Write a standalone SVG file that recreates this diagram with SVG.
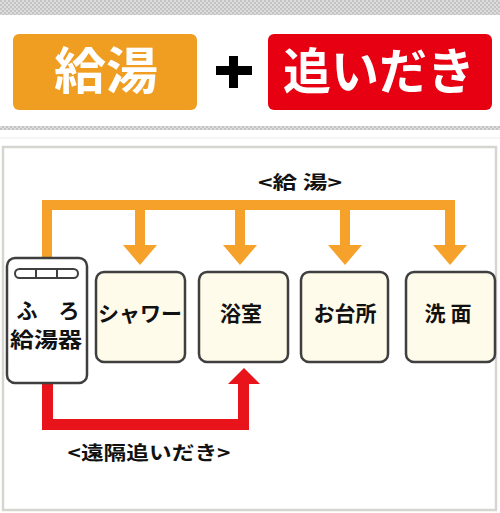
<svg xmlns="http://www.w3.org/2000/svg" width="500" height="513" viewBox="0 0 500 513">
<defs>
<style>
.jp{font-family:"Noto Sans CJK JP","Noto Sans CJK SC",sans-serif;font-weight:bold;}
.node{fill:#FFFBEA;stroke:#3f3f3f;stroke-width:2.5;}
.lbl{font-size:21px;fill:#111;text-anchor:middle;}
.org{fill:#F6A22A;}
.red{fill:#E8131B;}
</style>
<pattern id="chk" width="4" height="4" patternUnits="userSpaceOnUse">
<rect width="4" height="4" fill="#dcdcdc"/>
<rect width="2" height="2" fill="#c4c4c4"/>
<rect x="2" y="2" width="2" height="2" fill="#c4c4c4"/>
</pattern>
</defs>
<rect width="500" height="513" fill="#ffffff"/>
<!-- header -->
<rect x="0" y="0" width="500" height="15" fill="url(#chk)"/>
<rect x="0" y="126" width="500" height="4" fill="url(#chk)"/>
<line x1="0" y1="138" x2="500" y2="138" stroke="#ececec" stroke-width="1"/>
<g id="hdr-kyuto">
<rect x="13" y="34" width="184" height="76" rx="6" fill="#F09E22"/>
<text x="106" y="89" class="jp" font-size="50" fill="#fff" text-anchor="middle" textLength="104" lengthAdjust="spacingAndGlyphs">給湯</text>
</g>
<g id="hdr-plus">
<rect x="216" y="66" width="36" height="9" fill="#000"/>
<rect x="229" y="56" width="9" height="32" fill="#000"/>
</g>
<g id="hdr-oidaki">
<rect x="268" y="34" width="224" height="76" rx="6" fill="#E60012"/>
<text x="379" y="89" class="jp" font-size="49" fill="#fff" text-anchor="middle" textLength="192" lengthAdjust="spacingAndGlyphs">追いだき</text>
</g>
<!-- frame -->
<rect x="3" y="147" width="493" height="363" fill="#fff" stroke="#d6d6d0" stroke-width="2.5"/>
<!-- connectors -->
<g id="connectors">
<g class="org">
<rect x="42" y="200" width="413" height="10"/>
<rect x="42" y="200" width="10" height="59"/>
<rect x="135" y="205" width="10" height="42"/>
<polygon points="123,245 157,245 140,265"/>
<rect x="235" y="205" width="10" height="42"/>
<polygon points="223,245 257,245 240,265"/>
<rect x="340" y="205" width="10" height="42"/>
<polygon points="328,245 362,245 345,265"/>
<rect x="445" y="205" width="10" height="42"/>
<polygon points="433,245 467,245 450,265"/>
</g>
<g class="red">
<rect x="42" y="382" width="11" height="48"/>
<rect x="42" y="419" width="207" height="11"/>
<rect x="238" y="381" width="11" height="49"/>
<polygon points="228,384 260,384 244,368"/>
</g>
<text x="300" y="189" class="jp" font-size="18" fill="#111" text-anchor="middle" textLength="84" lengthAdjust="spacingAndGlyphs">&lt;給 湯&gt;</text>
<text x="149" y="460" class="jp" font-size="19" fill="#111" text-anchor="middle" textLength="163" lengthAdjust="spacingAndGlyphs">&lt;遠隔追いだき&gt;</text>
</g>
<!-- nodes -->
<g id="heater">
<rect x="7" y="258" width="80" height="125" rx="8" fill="#fff" stroke="#3f3f3f" stroke-width="2.5"/>
<rect x="15" y="269" width="63" height="9" rx="4.5" fill="#fff" stroke="#3f3f3f" stroke-width="2"/>
<line x1="36" y1="269" x2="36" y2="278" stroke="#3f3f3f" stroke-width="2"/>
<line x1="57" y1="269" x2="57" y2="278" stroke="#3f3f3f" stroke-width="2"/>
<text x="48" y="318" class="jp lbl" font-size="22">ふ　ろ</text>
<text x="46" y="347" class="jp lbl" font-size="22" textLength="72" lengthAdjust="spacingAndGlyphs">給湯器</text>
</g>
<g id="shower">
<rect class="node" x="96" y="272" width="89" height="90" rx="8"/>
<text x="140" y="321" class="jp lbl" font-size="20">シャワー</text>
</g>
<g id="bath">
<rect class="node" x="199" y="272" width="89" height="90" rx="8"/>
<text x="241" y="321" class="jp lbl">浴室</text>
</g>
<g id="kitchen">
<rect class="node" x="301" y="272" width="87" height="90" rx="8"/>
<text x="345" y="321" class="jp lbl">お台所</text>
</g>
<g id="washroom">
<rect class="node" x="406" y="272" width="89" height="90" rx="8"/>
<text x="448" y="321" class="jp lbl">洗 面</text>
</g>
</svg>
